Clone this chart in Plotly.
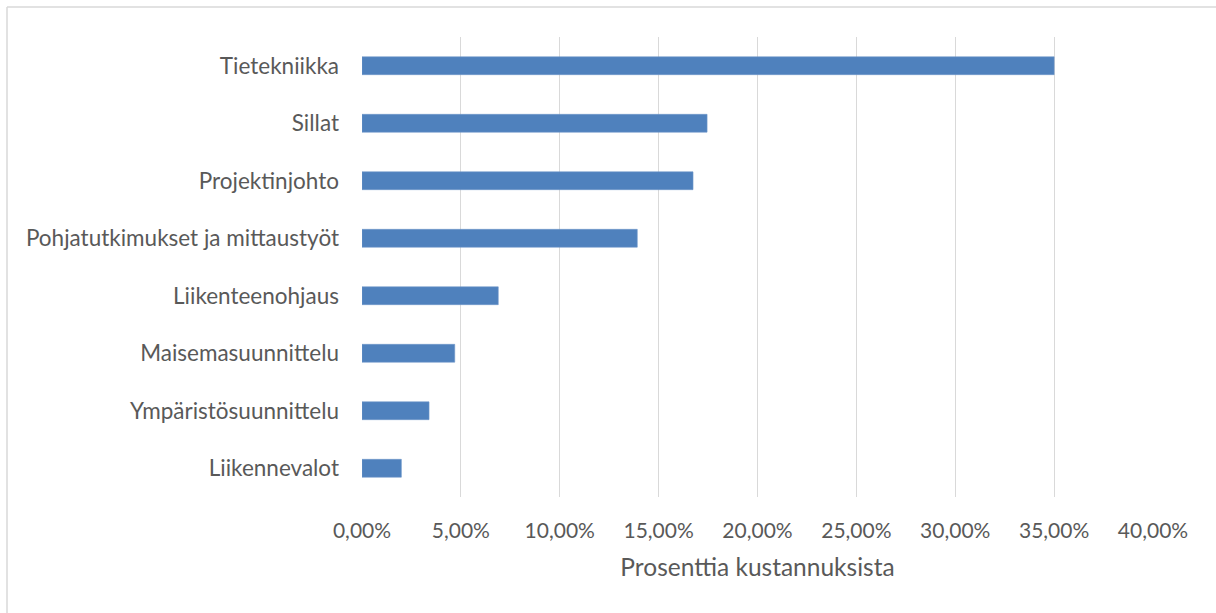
import plotly.graph_objects as go

# Share of design costs by discipline (fraction of total)
categories = [
    "Tietekniikka",
    "Sillat",
    "Projektinjohto",
    "Pohjatutkimukset ja mittaustyöt",
    "Liikenteenohjaus",
    "Maisemasuunnittelu",
    "Ympäristösuunnittelu",
    "Liikennevalot",
]
shares = [0.350, 0.1745, 0.1674, 0.1392, 0.0689, 0.0469, 0.0339, 0.0199]
x_ticks = [0.0, 0.05, 0.10, 0.15, 0.20, 0.25, 0.30, 0.35, 0.40]
x_title = "Prosenttia kustannuksista"

W, H = 1216, 613
L, R, T, B = 362, 63, 37, 116
pw, ph = W - L - R, H - T - B

FONT = "Lato"
TXT = "#595959"
GRID = "#d9d9d9"

fig = go.Figure(
    go.Bar(
        x=shares,
        y=categories,
        orientation="h",
        width=0.31,
        marker=dict(color="#4f81bd", line=dict(color="#6f97c9", width=0.6)),
    )
)

# chart frame: light border along the left and top edges
fx = (7 - L) / pw
fy_top = 1 + (T - 7) / ph
fy_bot = -(B + 10) / ph
fig.add_shape(type="line", xref="paper", yref="paper",
              x0=fx, x1=fx, y0=fy_bot, y1=fy_top,
              line=dict(color=GRID, width=1.5))
fig.add_shape(type="line", xref="paper", yref="paper",
              x0=fx, x1=1 + (R + 10) / pw, y0=fy_top, y1=fy_top,
              line=dict(color=GRID, width=1.5))

fig.update_layout(
    width=W,
    height=H,
    margin=dict(l=L, r=R, t=T, b=B, pad=0),
    paper_bgcolor="white",
    plot_bgcolor="white",
    separators=", ",
    showlegend=False,
    font=dict(family=FONT, color=TXT, size=22),
    xaxis=dict(
        range=[0, 0.40],
        tickvals=x_ticks,
        tickformat=".2%",
        showgrid=True,
        gridcolor=GRID,
        gridwidth=1.4,
        zeroline=False,
        showline=False,
        ticks="",
        ticklabelstandoff=19,
        tickfont=dict(family=FONT, size=21, color=TXT),
        title=dict(text=x_title, font=dict(family=FONT, size=24.5, color=TXT), standoff=17),
        fixedrange=True,
    ),
    yaxis=dict(
        autorange="reversed",
        showgrid=False,
        zeroline=False,
        showline=False,
        ticks="",
        ticklabelstandoff=22,
        tickfont=dict(family=FONT, size=22.5, color=TXT),
        fixedrange=True,
    ),
)

fig.write_html("out.html")
